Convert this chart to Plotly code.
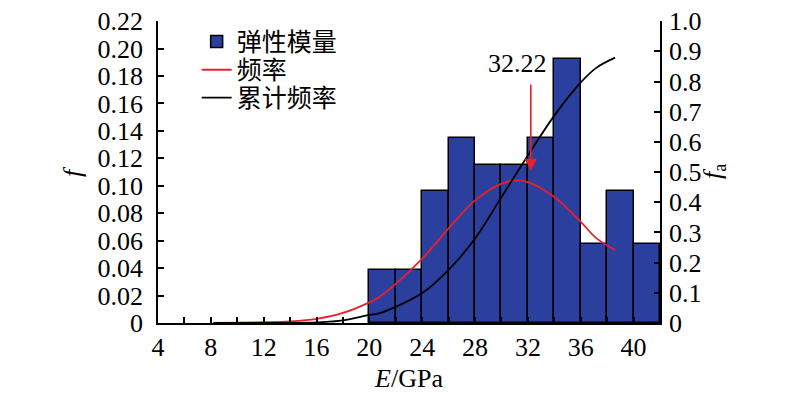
import plotly.graph_objects as go

# ---- data ----
bin_left = [20, 22, 24, 26, 28, 30, 32, 34, 36, 38, 40]
bin_width = 2
freq_bars = [0.0385, 0.0385, 0.0962, 0.1346, 0.1154, 0.1154, 0.1346, 0.1923, 0.0577, 0.0962, 0.0577]

pdf_x = [8.2, 10, 12, 14, 16, 18, 20, 20.8, 24, 26, 28, 30, 31.15, 32, 34, 36, 37.2, 38.6]
pdf_y = [0.0, 0.0003, 0.0006, 0.0012, 0.003, 0.0073, 0.015, 0.0193, 0.047, 0.069, 0.0894, 0.1016, 0.104, 0.1027, 0.0918, 0.0737, 0.0617, 0.0532]

cdf_x = [8.2, 12, 14, 16, 18, 20, 20.8, 24, 26, 28, 30, 32, 34, 36, 37.2, 38.6]
cdf_y = [0.0, 0.0002, 0.0005, 0.002, 0.0086, 0.027, 0.033, 0.099, 0.176, 0.28, 0.417, 0.555, 0.687, 0.797, 0.846, 0.879]

mean_value = 32.22
x_ticks = [4, 8, 12, 16, 20, 24, 28, 32, 36, 40]
y_ticks = [0, 0.02, 0.04, 0.06, 0.08, 0.10, 0.12, 0.14, 0.16, 0.18, 0.20, 0.22]
y_ticktext = ["0", "0.02", "0.04", "0.06", "0.08", "0.10", "0.12", "0.14", "0.16", "0.18", "0.20", "0.22"]
y2_ticks = [0, 0.1, 0.2, 0.3, 0.4, 0.5, 0.6, 0.7, 0.8, 0.9, 1.0]
y2_ticktext = ["0", "0.1", "0.2", "0.3", "0.4", "0.5", "0.6", "0.7", "0.8", "0.9", "1.0"]

SERIF = "Liberation Serif, Times New Roman, serif"
CJK = "Noto Sans CJK SC, sans-serif"
FS = 26

centers = [b + bin_width / 2 for b in bin_left]

fig = go.Figure()
fig.add_trace(go.Bar(
    x=centers, y=freq_bars, width=bin_width, name="弹性模量", legend="legend",
    marker=dict(color="#2B3F9F", line=dict(color="black", width=1.5)),
))
fig.add_trace(go.Scatter(
    x=pdf_x, y=pdf_y, mode="lines", name="频率", legend="legend2",
    line=dict(color="#E8202A", width=1.8, shape="spline"),
))
fig.add_trace(go.Scatter(
    x=cdf_x, y=cdf_y, mode="lines", name="累计频率", yaxis="y2", legend="legend3",
    line=dict(color="black", width=1.8, shape="spline"),
))

axis_common = dict(
    showline=True, linecolor="black", linewidth=1.5,
    ticks="inside", ticklen=6, tickwidth=1.5, tickcolor="black",
    showgrid=False, zeroline=False, automargin=False,
    ticklabeloverflow="allow",
    tickfont=dict(family=SERIF, size=FS, color="black"),
)

legend_common = dict(
    x=0.077, xanchor="left", yanchor="middle",
    bgcolor="rgba(0,0,0,0)",
    font=dict(family=CJK, size=25, color="black"),
)

# page body has an 8px default margin, so the figure is sized to fit the window
fig.update_layout(
    width=792, height=388,
    margin=dict(l=150, r=140, t=12, b=73),
    paper_bgcolor="white", plot_bgcolor="white",
    bargap=0,
    showlegend=True,
    legend=dict(y=0.928, **legend_common),
    legend2=dict(y=0.835, **legend_common),
    legend3=dict(y=0.743, **legend_common),
    xaxis=dict(
        range=[4, 42], tickvals=x_ticks,
        minor=dict(dtick=2, tick0=4, ticks="inside", ticklen=6, tickwidth=1.5, tickcolor="black", showgrid=False),
        title=dict(text="<i>E</i>/GPa", font=dict(family=SERIF, size=FS, color="black"), standoff=8),
        **axis_common,
    ),
    yaxis=dict(
        range=[0, 0.2201], tickvals=y_ticks, ticktext=y_ticktext, ticklabelstandoff=8,
        **axis_common,
    ),
    yaxis2=dict(
        range=[0, 1.0005], tickvals=y2_ticks, ticktext=y2_ticktext, ticklabelstandoff=2,
        overlaying="y", side="right",
        **axis_common,
    ),
    annotations=[
        dict(x=0, y=0.5, xref="paper", yref="paper", xanchor="center", yanchor="middle",
             xshift=-86, text="<i>f</i>", textangle=-90, showarrow=False,
             font=dict(family=SERIF, size=FS, color="black")),
        dict(x=1, y=0.5, xref="paper", yref="paper", xanchor="center", yanchor="middle",
             xshift=54, text="<i>f</i><sub>a</sub>", textangle=-90, showarrow=False,
             font=dict(family=SERIF, size=FS, color="black")),
        dict(x=31.25, y=0.189, xref="x", yref="y", text=f"{mean_value:.2f}", showarrow=False,
             font=dict(family=SERIF, size=FS, color="black")),
        dict(x=mean_value, y=0.111, xref="x", yref="y", ax=mean_value, ay=0.175, axref="x", ayref="y",
             text="", showarrow=True, arrowhead=2, arrowsize=1.5, arrowwidth=1.6, arrowcolor="#E8202A"),
    ],
)

fig.write_html("out.html")
